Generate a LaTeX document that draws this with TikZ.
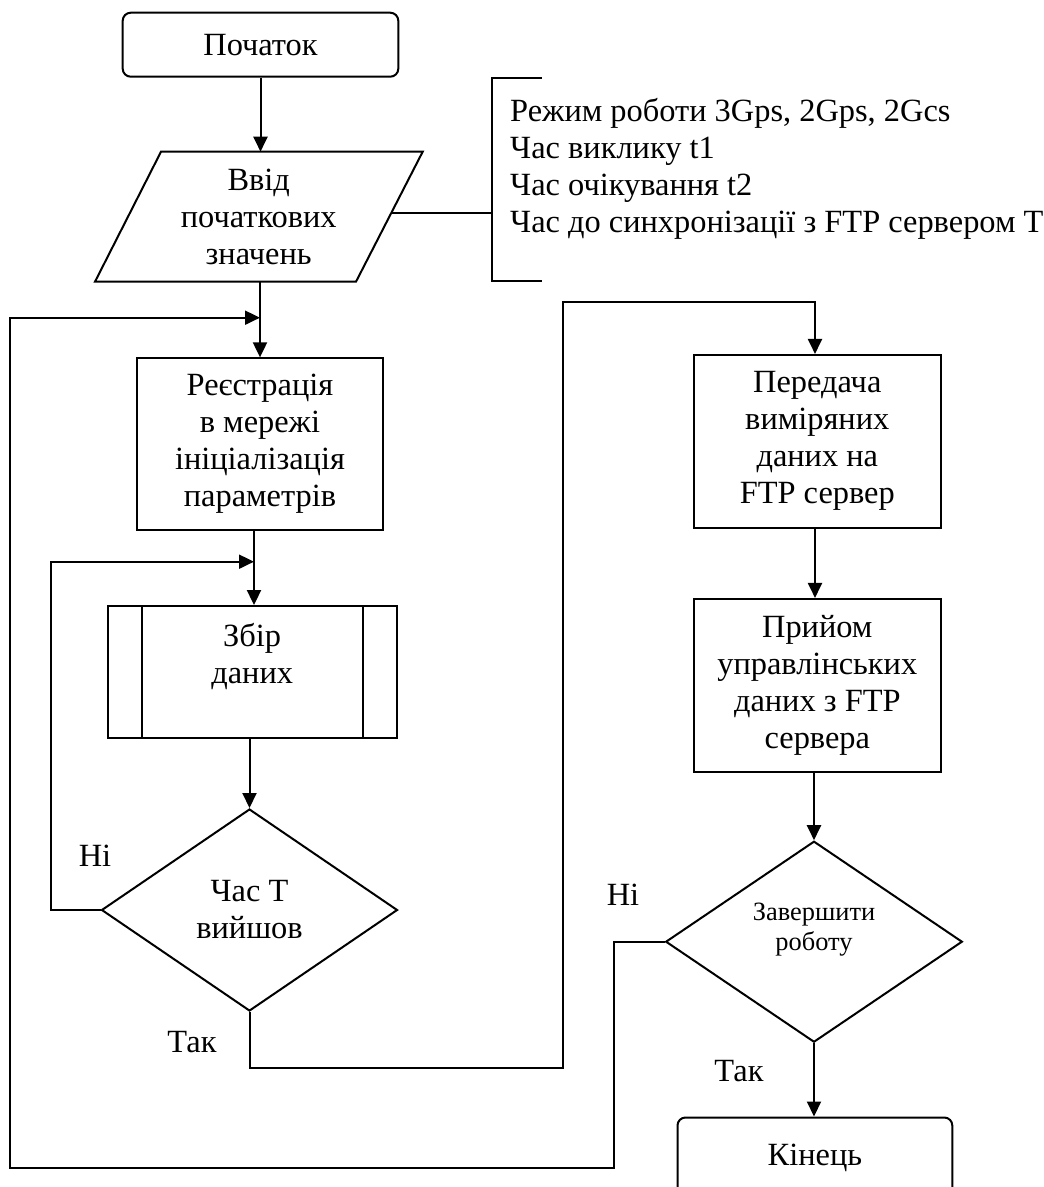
\documentclass[tikz,border=0pt]{standalone}
\usepackage{fontspec}
\setmainfont{Liberation Serif}
\usetikzlibrary{arrows.meta,shapes.geometric,calc}

\tikzset{
  txt/.style={font=\fontsize{32.4}{37}\selectfont, inner sep=0pt, align=center},
  base/.style={txt, draw, line width=2pt},
  proc/.style={base, rectangle},
  term/.style={base, rectangle, rounded corners=8pt},
  decide/.style={base, diamond},
  link/.style={line width=2pt},
  flow/.style={link, -{Triangle[length=15pt,width=14pt]}},
  tag/.style={txt, anchor=base},
}

\begin{document}
\begin{tikzpicture}[x=1pt,y=-1pt]
\useasboundingbox (0,0) rectangle (1044,1187);
\clip (0,0) rectangle (1044,1187);

% start / input
\node[term, minimum width=275.6pt, minimum height=64pt] (start) at (260.5,44.7) {Початок};

\coordinate (p1) at (95,281.7);
\coordinate (p2) at (356,281.7);
\coordinate (p3) at (422.7,151.7);
\coordinate (p4) at (161,151.7);
\draw[link, line join=miter] (p1) -- (p2) -- (p3) -- (p4) -- cycle;
\node[txt] (inp) at (258.7,216.7) {Ввід\\початкових\\значень};

% parameter note
\coordinate (q) at ($(p2)!0.526!(p3)$);
\coordinate (b1) at (541.7,78);
\coordinate (b2) at (491.7,78);
\coordinate (b3) at (491.7,281);
\coordinate (b4) at (541.7,281);
\draw[link] (b1) -- (b2) -- (b3) -- (b4);
\draw[link] (q) -- (q -| b2);
\node[txt, align=left, anchor=base west] (notes) at (510,232)
  {Режим роботи 3Gps, 2Gps, 2Gcs\\Час виклику t1\\Час очікування t2\\Час до синхронізації з FTP сервером T};

% left column
\node[proc, minimum width=246.6pt, minimum height=171.7pt] (reg) at (260,444.2)
  {Реєстрація\\в мережі\\ініціалізація\\параметрів};
\node[proc, minimum width=289pt, minimum height=131.7pt] (sub) at (252.2,671.9)
  {Збір\\даних\\\mbox{}};
\draw[link] ($(sub.north west)+(35,0)$) -- ($(sub.south west)+(35,0)$);
\draw[link] ($(sub.north east)+(-35,0)$) -- ($(sub.south east)+(-35,0)$);
\node[decide, minimum width=296pt, minimum height=202pt] (d1) at (249.5,910) {Час T\\вийшов};

% right column
\node[proc, minimum width=246.7pt, minimum height=172.7pt] (tx) at (817.3,441.3)
  {Передача\\виміряних\\даних на\\FTP сервер};
\node[proc, minimum width=246.7pt, minimum height=172.7pt] (rx) at (817.3,685.3)
  {Прийом\\управлінських\\даних з FTP\\сервера};
\node[decide, minimum width=296.6pt, minimum height=201pt, font=\fontsize{26.4}{30}\selectfont] (d2) at (814,941.7)
  {Завершити\\роботу\\\mbox{}};
\node[term, minimum width=274.8pt, minimum height=80pt] (end) at (814.9,1157.5) {Кінець};

% junctions and bends
\coordinate (c1) at (260,281.7);
\coordinate (j1) at (260,317.7);
\coordinate (j2) at (254,561.7);
\coordinate (n1) at (51,561.7);
\coordinate (t1) at (562.5,1067.7);
\coordinate (t2) at (815,301.7);
\coordinate (o1) at (614.3,1167.7);
\coordinate (o2) at (10,1167.7);

% connectors
\draw[flow] (start) -- (start |- p4);
\draw[flow] (c1) -- (c1 |- reg.north);
\draw[flow] (reg.south -| j2) -- (sub.north -| j2);
\draw[flow] (sub.south -| d1.north) -- (d1.north);
\draw[flow] (d1.west) -| (n1) -- (j2);
\draw[flow] (d1.south) |- (t1) |- (t2) -- (t2 |- tx.north);
\draw[flow] (tx.south -| t2) -- (rx.north -| t2);
\draw[flow] (rx.south -| d2.north) -- (d2.north);
\draw[flow] (d2.south) -- (end.north -| d2.south);
\draw[flow] (d2.west) -| (o1) -- (o2) |- (j1);

% branch labels
\node[tag] (no1) at (95,866.7) {Ні};
\node[tag] (yes1) at (192,1052.7) {Так};
\node[tag] (no2) at (623,905) {Ні};
\node[tag] (yes2) at (739,1081.7) {Так};
\end{tikzpicture}
\end{document}
